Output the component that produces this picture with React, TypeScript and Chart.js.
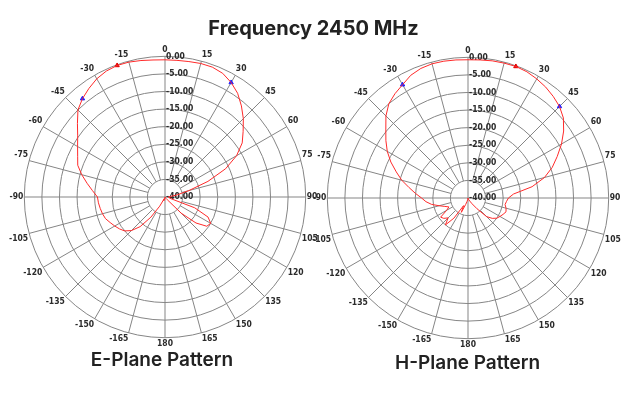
import React, { useEffect, useRef } from "react";
import { Chart, registerables } from "chart.js";
Chart.register(...registerables);

// Angles (degrees, clockwise from top), 5° steps
const ANGLES = [
  0, 5, 10, 15, 20, 25, 30, 35, 40, 45, 50, 55, 60, 65, 70, 75, 80, 85,
  90, 95, 100, 105, 110, 115, 120, 125, 130, 135, 140, 145, 150, 155, 160, 165, 170, 175,
  180, 185, 190, 195, 200, 205, 210, 215, 220, 225, 230, 235, 240, 245, 250, 255, 260, 265,
  270, 275, 280, 285, 290, 295, 300, 305, 310, 315, 320, 325, 330, 335, 340, 345, 350, 355,
];

// E-plane gain (dB), same order as ANGLES
const E_PLANE = [
  -1.0, -1.0, -0.9, -0.7, -0.7, -1.2, -2.4, -4.0, -6.2, -8.5, -11.0, -13.2, -16.5, -21.0, -27.0, -33.0, -36.5, -38.5,
  -39.0, -39.0, -38.5, -38.5, -31.0, -26.5, -25.0, -25.5, -28.5, -33.5, -39.0, -39.5, -40, -40, -40, -40, -40, -40,
  -40, -40, -39.5, -39.0, -38.8, -39.5, -37.0, -33.0, -29.0, -26.5, -25.0, -24.2, -23.5, -22.8, -22.0, -21.6, -21.3, -21.0,
  -20.8, -19.3, -17.5, -15.5, -13.6, -12.6, -11.3, -9.7, -7.5, -5.0, -3.5, -2.3, -1.2, -0.5, -0.2, -0.3, -0.6, -0.9,
];

// H-plane gain (dB), same order as ANGLES
const H_PLANE = [
  -0.7, -0.6, -0.4, -0.3, -0.2, -0.4, -0.9, -1.5, -2.3, -3.2, -4.6, -6.8, -9.3, -12.0, -14.5, -17.5, -21.5, -27.0,
  -28.5, -29.0, -29.3, -28.8, -28.5, -29.0, -29.5, -30.0, -31.0, -32.5, -36.0, -38.0, -39.0, -39.5, -39.5, -40, -40, -40,
  -40, -40, -39.5, -39.0, -38.0, -35.5, -37.5, -33.0, -30.0, -32.0, -31.0, -30.5, -33.0, -34.0, -33.0, -31.5, -29.5, -28.0,
  -26.8, -25.0, -23.0, -20.5, -18.3, -15.8, -13.5, -11.5, -9.5, -7.0, -5.0, -3.8, -2.8, -1.5, -0.8, -0.5, -0.5, -0.6,
];

// Markers: max (red) and -3 dB points (blue)
const E_MAX_ANGLES = [340];
const E_3DB_ANGLES = [320, 30];
const H_MAX_ANGLES = [20];
const H_3DB_ANGLES = [330, 45];

// Radial ticks (dB)
const RING_TICKS = [-40, -35, -30, -25, -20, -15, -10, -5, 0];
const SPOKE_STEP = 15;

const GRID = "#858585";
const LABEL_FONT = "'Liberation Sans Narrow', 'DejaVu Sans Condensed', sans-serif";
const TEXT = "#2b2b2b";

const angleLabel = (a: number) => String(a > 180 ? a - 360 : a);

const polarDecor = {
  id: "polarDecor",
  beforeDatasetsDraw(chart: any) {
    const s = chart.scales.r;
    const ctx = chart.ctx;
    ctx.save();
    ctx.strokeStyle = GRID;
    ctx.lineWidth = 1;
    ANGLES.forEach((a, i) => {
      if (a % SPOKE_STEP !== 0) return;
      const inner = a % 90 === 0 ? RING_TICKS[0] : RING_TICKS[1];
      const p0 = s.getPointPositionForValue(i, inner);
      const p1 = s.getPointPositionForValue(i, RING_TICKS[RING_TICKS.length - 1]);
      ctx.beginPath();
      ctx.moveTo(p0.x, p0.y);
      ctx.lineTo(p1.x, p1.y);
      ctx.stroke();
    });
    ctx.fillStyle = TEXT;
    ctx.font = `bold 8.5px ${LABEL_FONT}`;
    ctx.textAlign = "left";
    ctx.textBaseline = "middle";
    RING_TICKS.forEach((v) => {
      const d = s.getDistanceFromCenterForValue(v);
      ctx.fillText(v.toFixed(2), s.xCenter + 1, s.yCenter - d);
    });
    ctx.restore();
  },
};

function PolarChart({ values, maxAngles, dbAngles, left, top }: any) {
  const ref = useRef<HTMLCanvasElement | null>(null);
  useEffect(() => {
    const pick = (list: number[]) => ANGLES.map((a, i) => (list.includes(a) ? values[i] : null));
    const chart = new Chart(ref.current as HTMLCanvasElement, {
      type: "radar",
      data: {
        labels: ANGLES.map(angleLabel),
        datasets: [
          {
            data: values,
            borderColor: "#ff2a2a",
            borderWidth: 1,
            pointRadius: 0,
            fill: false,
            tension: 0,
          },
          {
            data: pick(maxAngles),
            showLine: false,
            pointStyle: "triangle",
            pointRadius: 2.5,
            pointBackgroundColor: "#e00000",
            pointBorderColor: "#e00000",
            spanGaps: true,
          },
          {
            data: pick(dbAngles),
            showLine: false,
            pointStyle: "triangle",
            pointRadius: 2.5,
            pointBackgroundColor: "#2020ff",
            pointBorderColor: "#2020ff",
            spanGaps: true,
          },
        ],
      },
      options: {
        responsive: false,
        animation: false,
        devicePixelRatio: 1,
        layout: { padding: 9 },
        plugins: { legend: { display: false }, tooltip: { enabled: false } },
        scales: {
          r: {
            min: RING_TICKS[0],
            max: RING_TICKS[RING_TICKS.length - 1],
            ticks: { stepSize: 5, display: false },
            grid: { circular: true, color: GRID, lineWidth: 1 },
            angleLines: { display: false },
            pointLabels: {
              display: true,
              padding: 1,
              color: TEXT,
              font: { size: 8.5, family: LABEL_FONT, weight: "bold" },
              callback: (label: string, i: number) => (ANGLES[i] % SPOKE_STEP === 0 ? label : ""),
            },
          },
        },
      },
      plugins: [polarDecor],
    } as any);
    return () => chart.destroy();
  }, []);
  return (
    <canvas
      ref={ref}
      width={330}
      height={330}
      style={{ position: "absolute", left, top, width: 330, height: 330 }}
    />
  );
}

export default function App() {
  const textBase: React.CSSProperties = {
    position: "absolute",
    fontFamily: "Inter, 'Noto Sans', sans-serif",
    color: "#222",
    whiteSpace: "nowrap",
    transform: "translateX(-50%)",
  };
  return (
    <div style={{ position: "absolute", left: 0, top: 0, width: 639, height: 394, background: "#fff", overflow: "hidden" }}>
      <PolarChart values={E_PLANE} maxAngles={E_MAX_ANGLES} dbAngles={E_3DB_ANGLES} left={-1} top={32} />
      <PolarChart values={H_PLANE} maxAngles={H_MAX_ANGLES} dbAngles={H_3DB_ANGLES} left={302} top={33} />
      <div style={{ ...textBase, left: 313.5, top: 18, fontSize: 20, lineHeight: "20px", fontWeight: 700 }}>
        Frequency 2450 MHz
      </div>
      <div style={{ ...textBase, left: 162, top: 350, fontSize: 19, lineHeight: "19px", fontWeight: 600 }}>
        E-Plane Pattern
      </div>
      <div style={{ ...textBase, left: 467.5, top: 352.5, fontSize: 19, lineHeight: "19px", fontWeight: 600 }}>
        H-Plane Pattern
      </div>
    </div>
  );
}
